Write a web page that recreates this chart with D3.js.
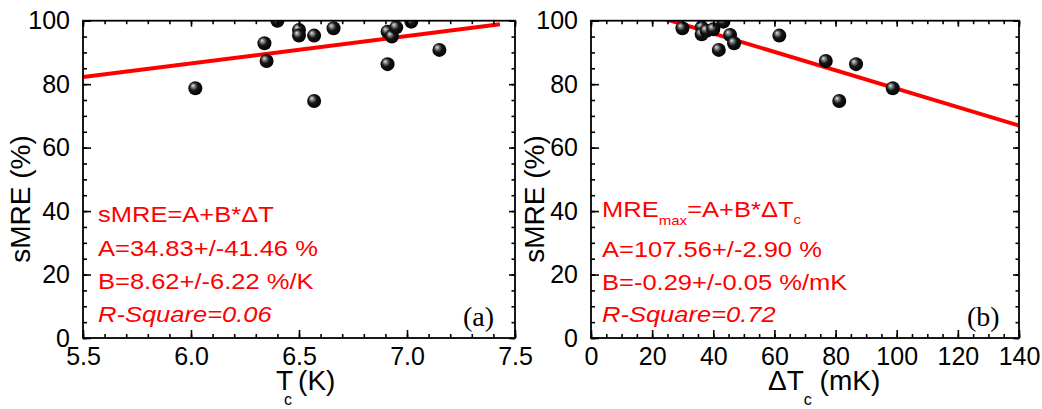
<!DOCTYPE html>
<html>
<head>
<meta charset="utf-8">
<script src="https://cdn.jsdelivr.net/npm/d3@7/dist/d3.min.js"></script>
<style>
  html, body { margin: 0; padding: 0; background: #fff; }
  svg { display: block; font-family: "Liberation Sans", Arial, sans-serif; }
</style>
</head>
<body>
<svg id="chart" width="1042" height="409"></svg>
<script>
// Panel (a): sMRE versus critical temperature Tc
const tcK      = [6.02, 6.34, 6.35, 6.40, 6.50, 6.50, 6.57, 6.57, 6.66, 6.91, 6.93, 6.95, 6.91, 7.02, 7.15];
const smreA    = [78.7, 92.9, 87.3, 100.0, 97.1, 95.3, 95.3, 74.7, 97.6, 96.5, 95.0, 97.9, 86.3, 99.7, 90.8];
// Panel (b): sMRE versus transition width ΔTc
const dTcMK    = [29.9, 36.2, 36.2, 37.8, 40.0, 43.3, 45.5, 46.8, 41.8, 61.6, 76.8, 86.7, 81.2, 98.7];
const smreB    = [97.6, 97.9, 95.7, 96.8, 97.3, 99.7, 95.5, 92.9, 90.8, 95.3, 87.3, 86.3, 74.7, 78.7];

// Linear fit parameters y = A + B*x
const fitA = [34.83, 107.56];
const fitB = [8.62, -0.29];
const fitRange = [[5.5, 7.43], [0, 140]];

// Axis ticks
const xTicksA = [5.5, 6.0, 6.5, 7.0, 7.5];
const xTicksB = [0, 20, 40, 60, 80, 100, 120, 140];
const yTicks  = [0, 20, 40, 60, 80, 100];

// Fit annotation lines
const noteA = ["sMRE=A+B*\u0394T", "A=34.83+/-41.46 %", "B=8.62+/-6.22 %/K", "R-Square=0.06"];
const noteB = ["A=107.56+/-2.90 %", "B=-0.29+/-0.05 %/mK", "R-Square=0.72"];

const svg = d3.select("#chart");
const plotTop = 20.7, plotBottom = 338;

// Sphere-like marker fill
const defs = svg.append("defs");
const grad = defs.append("radialGradient").attr("id", "ball")
  .attr("cx", "45%").attr("cy", "45%").attr("r", "60%")
  .attr("fx", "32%").attr("fy", "30%");
grad.append("stop").attr("offset", "0%").attr("stop-color", "#e8e8e8");
grad.append("stop").attr("offset", "20%").attr("stop-color", "#8a8a8a");
grad.append("stop").attr("offset", "50%").attr("stop-color", "#151515");
grad.append("stop").attr("offset", "100%").attr("stop-color", "#000");

function panel(cfg) {
  const x = d3.scaleLinear().domain(cfg.xDomain).range([cfg.left, cfg.right]);
  const y = d3.scaleLinear().domain([0, 100]).range([plotBottom, plotTop]);
  const g = svg.append("g");

  const clipId = "clip" + cfg.id;
  defs.append("clipPath").attr("id", clipId)
    .append("rect").attr("x", cfg.left).attr("y", plotTop)
    .attr("width", cfg.right - cfg.left).attr("height", plotBottom - plotTop);

  // fit line
  const lineGen = d3.line().x(d => x(d)).y(d => y(cfg.a + cfg.b * d));
  g.append("path").datum(cfg.fitX)
    .attr("clip-path", `url(#${clipId})`)
    .attr("d", lineGen)
    .attr("fill", "none").attr("stroke", "#ff0000").attr("stroke-width", 4);

  // data points
  g.append("g").attr("clip-path", `url(#${clipId})`)
    .selectAll("circle").data(cfg.xs.map((v, i) => [v, cfg.ys[i]]))
    .join("circle")
    .attr("cx", d => x(d[0])).attr("cy", d => y(d[1])).attr("r", 7)
    .attr("fill", "url(#ball)");

  const minorX = d3.range(cfg.xDomain[0], cfg.xDomain[1] + 1e-9, cfg.minorX).map(v => +v.toFixed(4));
  const minorY = d3.range(0, 100.001, 5);

  function styleAxis(sel) {
    sel.select(".domain").remove();
    sel.selectAll(".tick line").attr("stroke", "#000").attr("stroke-width", 1.6);
    sel.selectAll(".tick text").attr("fill", "#000")
      .style("font-family", '"Liberation Sans", Arial, sans-serif').style("font-size", "25px");
  }

  // bottom axis
  g.append("g").attr("transform", `translate(0,${plotBottom})`)
    .call(d3.axisBottom(x).tickValues(minorX).tickSize(-4).tickFormat("")).call(styleAxis);
  g.append("g").attr("transform", `translate(0,${plotBottom})`)
    .call(d3.axisBottom(x).tickValues(cfg.xTicks).tickSize(-8).tickPadding(9).tickFormat(cfg.xFmt))
    .call(styleAxis);
  // top axis
  g.append("g").attr("transform", `translate(0,${plotTop})`)
    .call(d3.axisTop(x).tickValues(minorX).tickSize(-3.5).tickFormat("")).call(styleAxis);
  g.append("g").attr("transform", `translate(0,${plotTop})`)
    .call(d3.axisTop(x).tickValues(cfg.xTicks).tickSize(-6).tickFormat("")).call(styleAxis);
  // left axis
  g.append("g").attr("transform", `translate(${cfg.left},0)`)
    .call(d3.axisLeft(y).tickValues(minorY).tickSize(-4).tickFormat("")).call(styleAxis);
  g.append("g").attr("transform", `translate(${cfg.left},0)`)
    .call(d3.axisLeft(y).tickValues(yTicks).tickSize(-8).tickPadding(13).tickFormat(d3.format("d")))
    .call(styleAxis);
  // right axis
  g.append("g").attr("transform", `translate(${cfg.right},0)`)
    .call(d3.axisRight(y).tickValues(minorY).tickSize(-3.5).tickFormat("")).call(styleAxis);
  g.append("g").attr("transform", `translate(${cfg.right},0)`)
    .call(d3.axisRight(y).tickValues(yTicks).tickSize(-6).tickFormat("")).call(styleAxis);

  // frame
  g.append("rect").attr("x", cfg.left).attr("y", plotTop)
    .attr("width", cfg.right - cfg.left).attr("height", plotBottom - plotTop)
    .attr("fill", "none").attr("stroke", "#000").attr("stroke-width", 1.8);

  // y title
  g.append("text")
    .attr("transform", `translate(${cfg.yTitleX},199) rotate(-90)`)
    .attr("text-anchor", "middle").attr("font-size", 28).attr("fill", "#000")
    .text("sMRE (%)");

  // panel tag
  g.append("text").attr("x", cfg.right - 52).attr("y", 326)
    .attr("font-family", '"Liberation Serif", "Times New Roman", serif')
    .attr("font-size", 28).attr("fill", "#000").text(cfg.tag);

  return { x, y, g };
}

const pa = panel({
  id: "a", left: 83, right: 515, xDomain: [5.5, 7.5], xTicks: xTicksA, minorX: 0.1,
  xFmt: d3.format(".1f"), xs: tcK, ys: smreA, a: fitA[0], b: fitB[0], fitX: fitRange[0],
  yTitleX: 30, tag: "(a)"
});
const pb = panel({
  id: "b", left: 591, right: 1019, xDomain: [0, 140], xTicks: xTicksB, minorX: 5,
  xFmt: d3.format("d"), xs: dTcMK, ys: smreB, a: fitA[1], b: fitB[1], fitX: fitRange[1],
  yTitleX: 544, tag: "(b)"
});

// x titles
const xtA = svg.append("text").attr("x", 276).attr("y", 390).attr("font-size", 28).attr("fill", "#000");
xtA.append("tspan").text("T");
xtA.append("tspan").attr("font-size", 16).attr("dx", -9).attr("dy", 15).text("c");
xtA.append("tspan").attr("dx", 6).attr("dy", -15).text("(K)");

const xtB = svg.append("text").attr("x", 768).attr("y", 390).attr("font-size", 28).attr("fill", "#000");
xtB.append("tspan").text("\u0394T");
xtB.append("tspan").attr("font-size", 16).attr("dx", 0).attr("dy", 15).text("c");
xtB.append("tspan").attr("dx", 0).attr("dy", -15).text(" (mK)");

// fit annotations (a)
const na = svg.append("g").attr("transform", "translate(98,0) scale(1.16,1)")
  .attr("fill", "#ff0000").attr("font-size", 22);
const baseA = [222, 256, 289, 322];
noteA.forEach((t, i) => {
  na.append("text").attr("x", 0).attr("y", baseA[i])
    .attr("font-style", i === 3 ? "italic" : "normal").text(t);
});

// fit annotations (b)
const nb = svg.append("g").attr("transform", "translate(602,0) scale(1.16,1)")
  .attr("fill", "#ff0000").attr("font-size", 22);
const first = nb.append("text").attr("x", 0).attr("y", 217);
first.append("tspan").text("MRE");
first.append("tspan").attr("font-size", 13).attr("dy", 8).text("max");
first.append("tspan").attr("dy", -8).text("=A+B*\u0394T");
first.append("tspan").attr("font-size", 13).attr("dy", 7).text("c");
const baseB = [257, 290, 322];
noteB.forEach((t, i) => {
  nb.append("text").attr("x", 0).attr("y", baseB[i])
    .attr("font-style", i === 2 ? "italic" : "normal").text(t);
});
</script>
</body>
</html>
